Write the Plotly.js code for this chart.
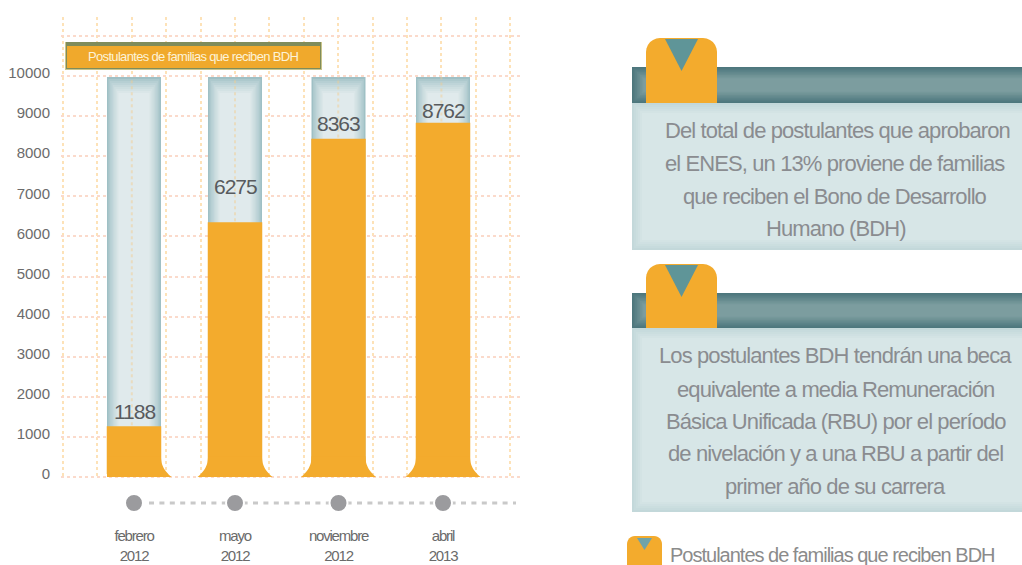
<!DOCTYPE html>
<html><head><meta charset="utf-8">
<script src="https://cdn.plot.ly/plotly-3.0.1.min.js"></script>
<style>html,body{margin:0;padding:0;background:#fff;overflow:hidden}#c{width:1022px;height:565px}</style>
</head><body><div id="c"></div>
<script>
// ---------- data ----------
const categories = ["febrero","mayo","noviembre","abril"];
const years = ["2012","2012","2012","2013"];
const values = [1188, 6275, 8363, 8762];
const totalBar = [9900, 9900, 9900, 9900];
const yTicks = [0,1000,2000,3000,4000,5000,6000,7000,8000,9000,10000];
const seriesName = "Postulantes de familias que reciben BDH";
const panel1 = ["Del total de postulantes que aprobaron","el ENES, un 13% proviene de familias","que reciben el Bono de Desarrollo","Humano (BDH)"];
const panel2 = ["Los postulantes BDH tendrán una beca","equivalente a media Remuneración","Básica Unificada (RBU) por el período","de nivelación y a una RBU a partir del","primer año de su carrera"];

// ---------- layout constants ----------
const W=1022,H=565;
const centers=[134,235,338.5,443];
const barW=54, gridL=63, plotL=61, plotR=521, plotT=17, plotB=479, gridStep=34.4;
const pxPerUnit=0.0401, zeroPx=474, gridZeroPx=477;
const labelLift=[15,36,15,12];
const ORANGE="#f3ab2d", SANS='"Liberation Sans",Arial,sans-serif';
const px=x=>x/W, py=y=>1-y/H;
const hex=c=>[1,3,5].map(i=>parseInt(c.substr(i,2),16));
const mix=(a,b,t)=>{const A=hex(a),B=hex(b);return `rgb(${A.map((v,i)=>Math.round(v+(B[i]-v)*t)).join(",")})`;};
const tight=(t,s)=>`<span style="letter-spacing:${s}px">${t}</span>`;

// ---------- traces ----------
const traces=[];
const layers=9;
for(let k=0;k<layers;k++){
  const t=k/(layers-1);
  traces.push({type:"bar",x:centers,y:totalBar.map(v=>v-k*50),width:barW-k*2.9,
    marker:{color:mix("#9fc0c5","#e0eaec",Math.pow(t,0.75)),line:{width:0}},hoverinfo:"skip",showlegend:false});
}
traces.push({type:"bar",name:seriesName,x:centers,y:values,width:barW+0.5,marker:{color:ORANGE,line:{width:0}},showlegend:false});
centers.forEach((c,i)=>{
  const h=520,f=10.5,n=16,xs=[],ys=[];
  const L=c-barW/2,R=c+barW/2;
  const foot=-(gridZeroPx-zeroPx)/pxPerUnit;
  const lf=i===0?0:f;
  for(let j=0;j<=n;j++){const s=j/n;xs.push(L-lf*Math.pow(1-s,2.4));ys.push(foot+h*s);}
  for(let j=n;j>=0;j--){const s=j/n;xs.push(R+f*Math.pow(1-s,2.4));ys.push(foot+h*s);}
  traces.push({type:"scatter",mode:"none",x:xs,y:ys,fill:"toself",fillcolor:ORANGE,hoverinfo:"skip",showlegend:false});
});
centers.forEach((c,i)=>{
  const gx=gridL+Math.round((c-gridL)/gridStep)*gridStep;
  traces.push({type:"scatter",mode:"lines",x:[gx,gx],y:[values[i]+30,totalBar[i]],line:{color:"rgba(245,205,140,0.45)",width:2,dash:"dot"},hoverinfo:"skip",showlegend:false});
});
traces.push({type:"scatter",mode:"none",x:centers,y:values,xaxis:"x2",yaxis:"y2",hoverinfo:"skip",showlegend:false});
traces.push({type:"scatter",mode:"lines",x:[149,516],y:[0,0],xaxis:"x3",yaxis:"y3",line:{color:"#c9c9c9",width:3,dash:"5px,5.4px"},hoverinfo:"skip",showlegend:false});
traces.push({type:"scatter",mode:"markers",x:centers,y:centers.map(()=>0),xaxis:"x3",yaxis:"y3",marker:{color:"#9b9b9e",size:18,line:{color:"#fff",width:2}},hoverinfo:"skip",showlegend:false});

// ---------- decoration ----------
const shapes=[],annotations=[];
function rect(x0,y0,x1,y1,color){shapes.push({type:"rect",xref:"paper",yref:"paper",x0:px(x0),x1:px(x1),y0:py(y0),y1:py(y1),fillcolor:color,line:{width:0},layer:"above"});}
function soft(x0,y0,x1,y1,edge,mid,n,step){for(let k=0;k<n;k++){rect(x0+k*step,y0+k*step,W,y1-k*step,mix(edge,mid,k/(n-1)));}}
function path(d,color){shapes.push({type:"path",xref:"paper",yref:"paper",path:d,fillcolor:color,line:{width:0},layer:"above"});}
function tab(x0,x1,top,bot,r,color){
  const P=(x,y)=>`${px(x)},${py(y)}`;
  const seg=[`M${P(x0,bot)}`,`L${P(x0,top+r)}`];
  for(let a=1;a<=6;a++){const t=a/6*Math.PI/2;seg.push(`L${P(x0+r-r*Math.cos(t),top+r-r*Math.sin(t))}`);}
  seg.push(`L${P(x1-r,top)}`);
  for(let a=1;a<=6;a++){const t=a/6*Math.PI/2;seg.push(`L${P(x1-r+r*Math.sin(t),top+r-r*Math.cos(t))}`);}
  seg.push(`L${P(x1,bot)}`,"Z");
  path(seg.join(" "),color);
}
function tri(x0,x1,top,ax,ay,color){const P=(x,y)=>`${px(x)},${py(y)}`;path(`M${P(x0,top)} L${P(x1,top)} L${P(ax,ay)} Z`,color);}
function label(text,x,y,size,color,s,anchor){annotations.push({xref:"paper",yref:"paper",x:px(x),y:py(y),text:tight(text,s),showarrow:false,xanchor:anchor||"center",yanchor:"middle",font:{size,color,family:SANS}});}

function panel(hTop,hBot,bBot,tabTop,lines,ys,xc){
  soft(632,hBot,W,bBot,"#c3d8da","#d7e6e7",6,2);
  soft(632,hTop,W,hBot,"#4d777d","#7c9d9f",8,1.6);
  tab(646,717,tabTop,hBot,14,ORANGE);
  tri(665,698,tabTop+1,681.5,tabTop+33,"#5f9598");
  lines.forEach((t,i)=>label(t,xc[i],ys[i],22,"#8a8c90",-0.9));
}
panel(67,103,250,38,panel1,[130,163,196,228],[837,834.5,834.5,836]);
panel(293,328,512,264,panel2,[355,389,421,453,486],[835,835,836,835.5,835.5]);

tab(627,662,536,570,8,ORANGE);
tri(637,652,538,644.5,550,"#6fa3a8");
label(seriesName,668,555,20,"#8b8b8b",-1,"left");

rect(65,42,322,70,"#c9c48a");
rect(66,42,321,69,"#7f8c5b");
rect(67,46,320,68,"#f0a92c");
label(seriesName,193,57,13,"#fdf3d8",-0.67);

centers.forEach((c,i)=>annotations.push({x:c,y:values[i],xref:"x",yref:"y",text:tight(String(values[i]),-1),showarrow:false,yshift:labelLift[i],xanchor:"center",yanchor:"middle",font:{size:21,color:"#585b5e",family:SANS}}));

const xDomain=[px(plotL),px(plotR)];
const layout={
  width:W,height:H,margin:{l:0,r:0,t:0,b:0},paper_bgcolor:"#fff",plot_bgcolor:"rgba(0,0,0,0)",
  barmode:"overlay",showlegend:false,hovermode:false,
  xaxis:{domain:xDomain,range:[plotL,plotR],tickmode:"linear",tick0:gridL,dtick:gridStep,showgrid:true,
    gridcolor:"#fde2b8",griddash:"dot",gridwidth:2,showticklabels:false,ticks:"",zeroline:false,showline:false},
  xaxis2:{domain:xDomain,range:[plotL,plotR],overlaying:"x",anchor:"y",tickmode:"array",tickvals:centers,
    ticktext:categories.map((c,i)=>tight(c,-1.2)+"<br>"+tight(years[i],-1.2)),
    showgrid:false,zeroline:false,showline:false,ticks:"",ticklabelstandoff:46,tickangle:0,
    tickfont:{family:SANS,size:15,color:"#6a6a6a"}},
  xaxis3:{domain:xDomain,range:[plotL,plotR],anchor:"y3",showgrid:false,zeroline:false,showline:false,showticklabels:false,ticks:""},
  yaxis:{domain:[py(plotB),py(plotT)],range:[-(plotB-zeroPx)/pxPerUnit,(zeroPx-plotT)/pxPerUnit],tickmode:"array",tickvals:yTicks,ticktext:yTicks.map(String),
    showgrid:false,zeroline:false,showline:false,ticks:"",ticklabelstandoff:10,tickfont:{family:SANS,size:15,color:"#6b6b6b"}},
  yaxis2:{domain:[py(plotB),py(plotT)],range:[-(plotB-gridZeroPx)/pxPerUnit,(gridZeroPx-plotT)/pxPerUnit],overlaying:"y",anchor:"x",tickmode:"linear",tick0:0,dtick:1000,showgrid:true,
    gridcolor:"#fbdacb",griddash:"dot",gridwidth:2,showticklabels:false,ticks:"",zeroline:false,showline:false},
  yaxis3:{domain:[py(518),py(488)],range:[-1,1],anchor:"x3",showgrid:false,zeroline:false,showline:false,showticklabels:false,ticks:""},
  shapes,annotations
};
Plotly.newPlot("c",traces,layout,{displayModeBar:false,staticPlot:true});
</script></body></html>
